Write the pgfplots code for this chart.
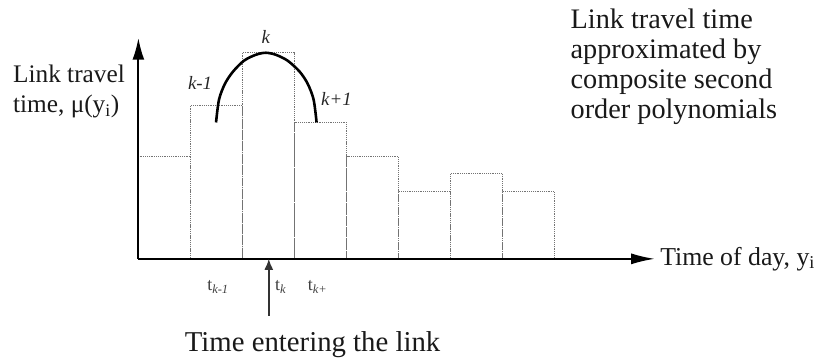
\documentclass[border=0pt]{standalone}
\usepackage{fontspec}
\setmainfont{Liberation Serif}
\usepackage{pgfplots}
\pgfplotsset{compat=1.18}
\usetikzlibrary{arrows.meta}
\begin{document}
\begin{tikzpicture}
\begin{axis}[
  x=1bp, y=1bp,
  xmin=-139, xmax=676, ymin=-102, ymax=260,
  hide axis, clip=false,
  scale only axis,
]
% invisible frame
\addplot[draw=none] coordinates {(-139,-102) (676,260)};
% bars
\addplot[ybar interval, draw=black!55, densely dotted, line width=1.2bp, fill=none]
  coordinates {(0,103) (52.25,154) (104.5,207) (156.75,137) (209,103) (261.25,68) (313.5,86) (365.75,68) (418,68)};
% axes
\addplot[black, line width=2bp, -{Latex[length=22bp,width=12bp]}] coordinates {(0,0) (0,222)};
\addplot[black, line width=2bp, -{Latex[length=24bp,width=11bp]}] coordinates {(0,0) (519,0)};
% arrow entering
\addplot[black!80, line width=1.5bp, -{Latex[length=11bp,width=9bp]}] coordinates {(131,-57) (131,0)};
% arc
\addplot[black, line width=2.6bp, smooth] coordinates {
 (78,137) (81,160) (87,176) (95,188) (106,199) (118,205) (128,207) (138,205) (150,199) (162,188) (170,176) (176,160) (179,137)};
% labels
\node[font=\fontsize{19}{19}\selectfont\itshape, text=black!85] at (axis cs:128,223) {k};
\node[font=\fontsize{19}{19}\selectfont\itshape, text=black!85] at (axis cs:62,177) {k-1};
\node[font=\fontsize{19}{19}\selectfont\itshape, text=black!85] at (axis cs:199,161) {k+1};
\node[font=\fontsize{18}{18}\selectfont, text=black!75] at (axis cs:80,-28) {t\textsubscript{\textit{k-1}}};
\node[font=\fontsize{18}{18}\selectfont, text=black!75] at (axis cs:143,-28) {t\textsubscript{\textit{k}}};
\node[font=\fontsize{18}{18}\selectfont, text=black!75] at (axis cs:180,-28) {t\textsubscript{\textit{k+}}};
\node[font=\fontsize{26}{26}\selectfont, text=black!90, anchor=west, inner sep=0pt] at (axis cs:524,0) {Time of day, y\textsubscript{i}};
\node[font=\fontsize{29}{29}\selectfont, text=black!90, anchor=base, inner sep=0pt] at (axis cs:175,-93) {Time entering the link};
\node[font=\fontsize{25.5}{30}\selectfont, text=black!90, anchor=base west, align=left, inner sep=0pt] at (axis cs:-126,147) {Link travel\\time, μ(y\textsubscript{i})};
\node[font=\fontsize{28.5}{30.5}\selectfont, text=black!90, anchor=base west, align=left, inner sep=0pt] at (axis cs:434,140.5) {Link travel time\\approximated by\\composite second\\order polynomials};
\end{axis}
\end{tikzpicture}
\end{document}
